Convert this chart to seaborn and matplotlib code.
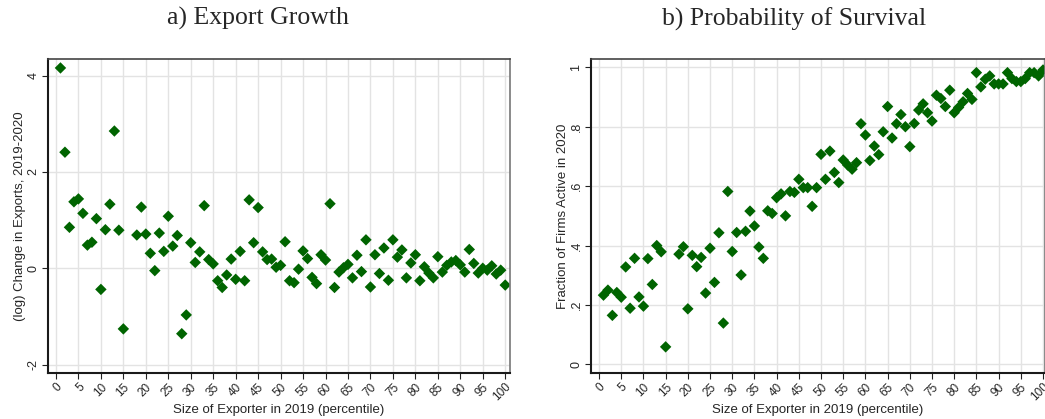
import numpy as np
import pandas as pd
import matplotlib
matplotlib.use("Agg")
import matplotlib.pyplot as plt
import seaborn as sns

# percentile bins (16 and 17 are missing in the source)
pct = [1, 2, 3, 4, 5, 6, 7, 8, 9, 10, 11, 12, 13, 14, 15,
       18, 19, 20, 21, 22, 23, 24, 25, 26, 27, 28, 29, 30,
       31, 32, 33, 34, 35, 36, 37, 38, 39, 40, 41, 42, 43, 44, 45,
       46, 47, 48, 49, 50, 51, 52, 53, 54, 55, 56, 57, 58, 59, 60,
       61, 62, 63, 64, 65, 66, 67, 68, 69, 70, 71, 72, 73, 74, 75,
       76, 77, 78, 79, 80, 81, 82, 83, 84, 85, 86, 87, 88, 89, 90,
       91, 92, 93, 94, 95, 96, 97, 98, 99, 100]

# (log) change in exports 2019-2020
export_growth = [4.16, 2.41, 0.85, 1.38, 1.44, 1.14, 0.48, 0.54, 1.03, -0.44,
                 0.80, 1.33, 2.85, 0.79, -1.26,
                 0.69, 1.27, 0.71, 0.31, -0.05, 0.73, 0.35, 1.08, 0.46, 0.68,
                 -1.36, -0.97, 0.53,
                 0.12, 0.34, 1.30, 0.18, 0.09, -0.26, -0.40, -0.14, 0.19, -0.23,
                 0.35, -0.26, 1.42, 0.53, 1.26,
                 0.34, 0.18, 0.19, 0.02, 0.06, 0.55, -0.26, -0.30, -0.02, 0.36,
                 0.20, -0.19, -0.32, 0.28, 0.17,
                 1.34, -0.40, -0.08, 0.01, 0.08, -0.20, 0.27, -0.07, 0.59, -0.39,
                 0.28, -0.11, 0.42, -0.25, 0.59,
                 0.23, 0.38, -0.20, 0.11, 0.28, -0.26, 0.03, -0.10, -0.20, 0.24,
                 -0.08, 0.06, 0.13, 0.16, 0.07,
                 -0.08, 0.39, 0.10, -0.10, 0.00, -0.04, 0.05, -0.12, -0.04, -0.35]

# fraction of firms still active in 2020
survival = [0.233, 0.250, 0.165, 0.242, 0.226, 0.328, 0.189, 0.357, 0.227, 0.196,
            0.356, 0.269, 0.400, 0.379, 0.059,
            0.371, 0.396, 0.187, 0.367, 0.329, 0.360, 0.240, 0.391, 0.276, 0.443,
            0.139, 0.582, 0.380,
            0.444, 0.301, 0.448, 0.516, 0.466, 0.395, 0.357, 0.517, 0.508, 0.561,
            0.574, 0.500, 0.582, 0.579, 0.623,
            0.595, 0.595, 0.532, 0.595, 0.707, 0.623, 0.718, 0.646, 0.612, 0.688,
            0.671, 0.657, 0.679, 0.810, 0.772,
            0.686, 0.735, 0.706, 0.783, 0.868, 0.762, 0.810, 0.841, 0.800, 0.733,
            0.811, 0.856, 0.877, 0.847, 0.819,
            0.906, 0.895, 0.868, 0.923, 0.847, 0.865, 0.884, 0.912, 0.892, 0.982,
            0.934, 0.960, 0.971, 0.944, 0.944,
            0.944, 0.982, 0.962, 0.952, 0.952, 0.962, 0.982, 0.982, 0.971, 0.991]

xticks = list(range(0, 101, 5))
left_yticks = [-2, 0, 2, 4]
left_ylabels = ["-2", "0", "2", "4"]
right_yticks = [0, 0.2, 0.4, 0.6, 0.8, 1.0]
right_ylabels = ["0", ".2", ".4", ".6", ".8", "1"]

df = pd.DataFrame({"pct": pct, "growth": export_growth, "survival": survival})

sns.set_style("white")
plt.rcParams["font.family"] = ["Liberation Sans", "DejaVu Sans"]

GREEN = "#006400"
fig = plt.figure(figsize=(10.45, 4.19), dpi=100)
ax1 = fig.add_axes([0.0456, 0.1105, 0.4426, 0.748])
ax2 = fig.add_axes([0.5653, 0.1105, 0.4347, 0.748])


def style_axis(ax, yticks, ylabels, ylabel):
    ax.set_xticks(xticks)
    ax.set_xticklabels([str(t) for t in xticks], rotation=45, ha="right",
                       rotation_mode="anchor", fontsize=8.5)
    ax.set_yticks(yticks)
    ax.set_yticklabels(ylabels, rotation=90, va="center", fontsize=9)
    ax.grid(True, color="#e3e3e3", linewidth=1)
    ax.set_axisbelow(True)
    ax.tick_params(axis="both", length=4, width=0.8, color="#222222",
                   direction="out", bottom=True, left=True, pad=2)
    ax.set_xlabel("Size of Exporter in 2019 (percentile)", fontsize=9.5,
                  labelpad=0)
    ax.set_ylabel(ylabel, fontsize=9.5, labelpad=1)
    for side in ["left", "bottom"]:
        ax.spines[side].set_color("#1a1a1a")
        ax.spines[side].set_linewidth(1.5)
    ax.spines["top"].set_color("#444444")
    ax.spines["top"].set_linewidth(1.2)
    ax.spines["right"].set_color("#777777")
    ax.spines["right"].set_linewidth(1.2)


sns.scatterplot(data=df, x="pct", y="growth", ax=ax1, marker="D",
                color=GREEN, s=34, edgecolor="none", linewidth=0)
ax1.set_xlim(-1.85, 101.1)
ax1.set_ylim(-2.17, 4.34)
style_axis(ax1, left_yticks, left_ylabels, "(log) Change in Exports, 2019-2020")

sns.scatterplot(data=df, x="pct", y="survival", ax=ax2, marker="D",
                color=GREEN, s=34, edgecolor="none", linewidth=0)
ax2.set_xlim(-1.87, 100.45)
ax2.set_ylim(-0.028, 1.027)
style_axis(ax2, right_yticks, right_ylabels, "Fraction of Firms Active in 2020")

fig.text(0.247, 0.955, "a) Export Growth", ha="center", va="center",
         fontsize=18.5, family=["Liberation Serif", "DejaVu Serif"])
fig.text(0.760, 0.955, "b) Probability of Survival", ha="center", va="center",
         fontsize=18.5, family=["Liberation Serif", "DejaVu Serif"])

fig.savefig("out.png", dpi=100)
